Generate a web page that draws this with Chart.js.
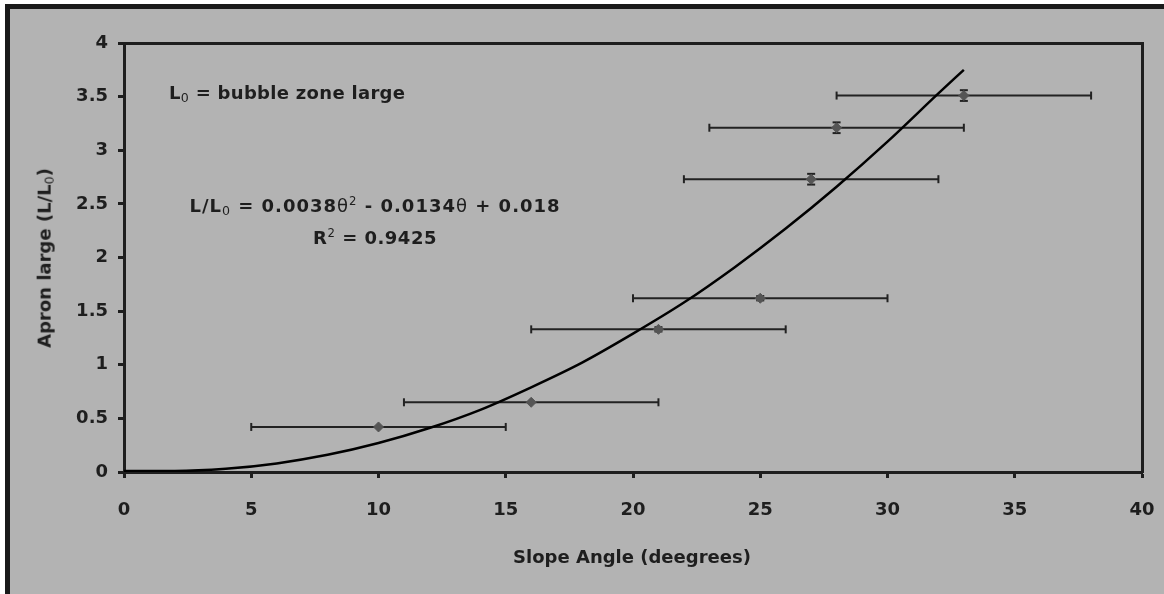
<!DOCTYPE html>
<html>
<head>
<meta charset="utf-8">
<script src="https://cdn.jsdelivr.net/npm/chart.js@4.4.1/dist/chart.umd.min.js"></script>
<style>
  body { margin: 0; width: 1164px; height: 594px; background: #fff; overflow: hidden; position: relative; }
  #frame { position: absolute; left: 5px; top: 4px; width: 1170px; height: 600px; background: #b3b3b3;
           border-top: 5px solid #1a1a1a; border-left: 5px solid #1a1a1a; }
  canvas { position: absolute; left: 0; top: 0; }
  .txt { position: absolute; font-family: "DejaVu Sans", sans-serif; font-weight: bold; font-size: 18px;
         color: #1e1e1e; white-space: nowrap; line-height: 1; }
  .txt sub { font-size: 70%; vertical-align: -0.25em; font-weight: normal; }
  .txt sup { font-size: 65%; vertical-align: 0.6em; font-weight: normal; }
  .th { font-weight: normal; }
</style>
</head>
<body>
<div id="frame"></div>
<canvas id="myChart" width="1164" height="594"></canvas>
<div class="txt" id="note" style="left:169px; top:84px; letter-spacing:0.3px;">L<sub>0</sub> = bubble zone large</div>
<div class="txt" id="eq" style="left:375px; top:196px; transform:translateX(-50%); letter-spacing:1px;">L/L<sub>0</sub> = 0.0038<span class="th">θ</span><sup>2</sup> - 0.0134<span class="th">θ</span> + 0.018</div>
<div class="txt" id="r2" style="left:375px; top:228px; transform:translateX(-50%); letter-spacing:0.5px;">R<sup>2</sup> = 0.9425</div>
<div class="txt" id="ytitle" style="left:46px; top:258px; transform:translate(-50%,-50%) rotate(-90deg);">Apron large (L/L<sub>0</sub>)</div>
<div class="txt" id="xtitle" style="left:632px; top:557px; transform:translate(-50%,-50%);">Slope Angle (deegrees)</div>
<script>
document.addEventListener("DOMContentLoaded", () => {
  // measured points
  const xs = [10, 16, 21, 25, 27, 28, 33];
  const ys = [0.42, 0.65, 1.33, 1.62, 2.73, 3.21, 3.51];
  const xErr = [5, 5, 5, 5, 5, 5, 5];
  const yErr = [0, 0, 0.02, 0.02, 0.05, 0.05, 0.05];

  // trend curve
  const curveX = [0, 2, 4, 6, 8, 10, 12, 14, 16, 18, 20, 22, 24, 26, 28, 30, 32, 33];
  const curveY = [0.01, 0.01, 0.03, 0.08, 0.16, 0.27, 0.41, 0.58, 0.79, 1.02, 1.29, 1.58, 1.91, 2.27, 2.66, 3.08, 3.53, 3.75];

  const xTicks = [0, 5, 10, 15, 20, 25, 30, 35, 40];
  const yTicks = [0, 0.5, 1, 1.5, 2, 2.5, 3, 3.5, 4];

  const ink = "#1e1e1e";
  const tickFont = { family: "DejaVu Sans", size: 18, weight: "bold" };

  const datasets = [];

  datasets.push({
    type: "line",
    data: curveX.map((x, i) => ({ x, y: curveY[i] })),
    borderColor: "#000",
    borderWidth: 2.5,
    pointRadius: 0,
    cubicInterpolationMode: "monotone",
    fill: false,
  });

  datasets.push({
    type: "scatter",
    data: xs.map((x, i) => ({ x, y: ys[i] })),
    pointStyle: "rectRot",
    pointRadius: 5,
    backgroundColor: "#555",
    borderColor: "#555",
  });

  xs.forEach((x, i) => {
    datasets.push({
      type: "line",
      data: [{ x: x - xErr[i], y: ys[i] }, { x: x + xErr[i], y: ys[i] }],
      borderColor: "#222",
      borderWidth: 2,
      pointStyle: "line",
      pointRotation: 90,
      pointRadius: 4,
      pointBorderColor: "#222",
      pointBorderWidth: 2,
    });
    if (yErr[i] > 0) {
      datasets.push({
        type: "line",
        data: [{ x, y: ys[i] - yErr[i] }, { x, y: ys[i] + yErr[i] }],
        borderColor: "#222",
        borderWidth: 2,
        pointStyle: "line",
        pointRotation: 0,
        pointRadius: 4,
        pointBorderColor: "#222",
        pointBorderWidth: 2,
      });
    }
  });

  const axisBase = {
    type: "linear",
    grid: { display: true, drawOnChartArea: false, color: ink, tickLength: 6, tickWidth: 3 },
    border: { display: true, color: ink, width: 3 },
  };

  const config = {
    type: "scatter",
    data: { datasets },
    options: {
      responsive: false,
      animation: false,
      devicePixelRatio: 1,
      layout: { padding: { left: 0, top: 43, right: 22, bottom: 0 } },
      plugins: { legend: { display: false }, tooltip: { enabled: false } },
      scales: {
        x: {
          ...axisBase,
          position: "bottom",
          min: 0,
          max: 40,
          afterBuildTicks: (s) => { s.ticks = xTicks.map((v) => ({ value: v })); },
          ticks: { font: tickFont, color: ink, padding: 22, maxRotation: 0, callback: (v) => String(v) },
          afterFit: (s) => { s.height = 122; s.paddingLeft = 0; s.paddingRight = 0; },
        },
        y: {
          ...axisBase,
          position: "left",
          min: 0,
          max: 4,
          afterBuildTicks: (s) => { s.ticks = yTicks.map((v) => ({ value: v })); },
          ticks: { font: tickFont, color: ink, padding: 10, callback: (v) => String(v) },
          afterFit: (s) => { s.width = 124; s.paddingTop = 0; s.paddingBottom = 0; },
        },
        x2: {
          type: "linear",
          position: "top",
          min: 0,
          max: 40,
          ticks: { display: false },
          grid: { display: false },
          border: { display: true, color: ink, width: 3 },
          afterFit: (s) => { s.height = 0; },
        },
        y2: {
          type: "linear",
          position: "right",
          min: 0,
          max: 4,
          ticks: { display: false },
          grid: { display: false },
          border: { display: true, color: ink, width: 3 },
          afterFit: (s) => { s.width = 0; },
        },
      },
    },
  };

  const myChart = new Chart(document.getElementById("myChart"), config);
});
</script>
</body>
</html>
